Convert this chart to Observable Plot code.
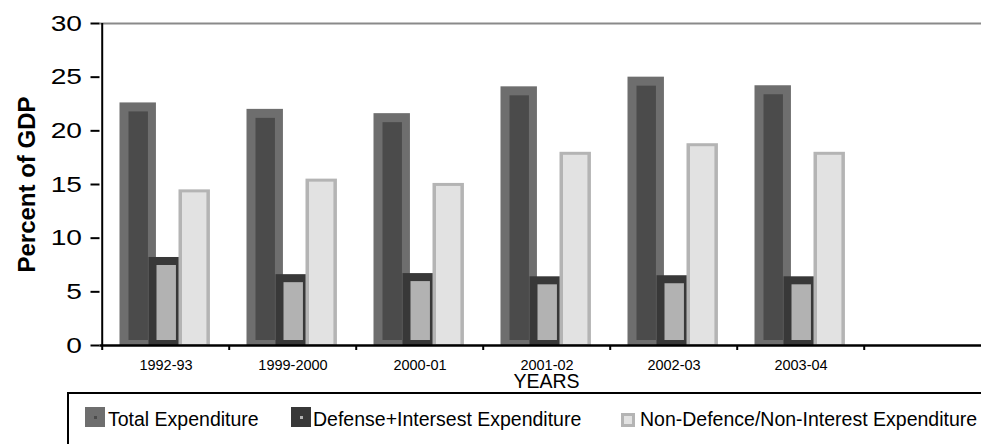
<!DOCTYPE html>
<html>
<head>
<meta charset="utf-8">
<script src="https://cdn.jsdelivr.net/npm/d3@7"></script>
<script src="https://cdn.jsdelivr.net/npm/@observablehq/plot@0.6"></script>
<style>
  body { margin: 0; background: #fff; font-family: "Liberation Sans", Arial, sans-serif; }
  #wrap { position: relative; width: 981px; height: 444px; overflow: hidden; background: #fff; }
  #wrap svg { max-width: none !important; position: absolute; left: 0; top: 0;
    font-family: "Liberation Sans", Arial, sans-serif !important; }
  #wrap svg text { font-family: "Liberation Sans", Arial, sans-serif; }
  #legend-box { position: absolute; left: 67px; top: 392px; width: 1000px; height: 80px;
    border: 2px solid #000; box-sizing: border-box; }
  .sw { position: absolute; box-sizing: border-box; }
  .dot { position: absolute; width: 3px; height: 3px; left: 8.5px; top: 8.5px; }
  .lbl { position: absolute; top: 409.5px; font-size: 19.5px; line-height: 19.5px; color: #000; white-space: nowrap; }
</style>
</head>
<body>
<div id="wrap"></div>
<script>
// Government expenditure as a share of GDP, by fiscal year
const years = ["1992-93", "1999-2000", "2000-01", "2001-02", "2002-03", "2003-04"];
const totalExpenditure = [22.6, 22.0, 21.6, 24.1, 25.0, 24.2];
const defenseInterest = [8.2, 6.6, 6.7, 6.4, 6.5, 6.4];
const nonDefenceNonInterest = [14.5, 15.5, 15.1, 18.0, 18.8, 18.0];
const yTicks = [0, 5, 10, 15, 20, 25, 30];
const seriesNames = ["Total Expenditure", "Defense+Intersest Expenditure", "Non-Defence/Non-Interest Expenditure"];

const rows = years.map((year, i) => ({
  year,
  total: totalExpenditure[i],
  defense: defenseInterest[i],
  nonDefence: nonDefenceNonInterest[i]
}));

// layout: the category axis keeps a spare empty slot on the right
const W = 993, H = 393, mL = 99.5, mR = 0.5, mT = 23, mB = 48;
const slots = [...years, ""];
const bw = (W - mL - mR) / slots.length;

// each column is an outer shell with an inset core
function column(field, outer, inner, left, right, border, bottom) {
  return [
    Plot.barY(rows, {x: "year", y: field, fill: outer, insetLeft: left, insetRight: bw - right}),
    Plot.barY(rows, {x: "year", y: field, fill: inner,
      insetLeft: left + border[0], insetRight: bw - right + border[1],
      insetTop: border[2], insetBottom: bottom})
  ];
}

const chart = Plot.plot({
  width: W, height: H,
  marginLeft: mL, marginRight: mR, marginTop: mT, marginBottom: mB,
  style: {background: "transparent", maxWidth: "none", color: "#000"},
  x: {domain: slots, padding: 0, axis: null},
  y: {domain: [0, 30], axis: null},
  marks: [
    ...column("total", "#6e6e6e", "#4b4b4b", 17.5, 54.5, [9, 8, 9], 5),
    ...column("defense", "#383838", "#b2b2b2", 46.5, 82.5, [8, 8, 8], 5),
    ...column("nonDefence", "#b4b4b4", "#e2e2e2", 76.5, 108.5, [3.5, 3.5, 3], 1),
    Plot.gridY({ticks: [30], stroke: "#8a8a8a", strokeOpacity: 1, strokeWidth: 2}),
    Plot.ruleY([0], {stroke: "#000", strokeWidth: 2.5}),
    Plot.ruleX([years[0]], {x: d => d, dx: -bw / 2, stroke: "#000", strokeWidth: 2}),
    Plot.axisY({ticks: yTicks, tickSize: 9, tickPadding: 9, fontSize: 22, strokeWidth: 2, label: null}),
    Plot.axisX({ticks: slots, tickSize: 5, tickFormat: () => "", dx: -bw / 2, strokeWidth: 2, label: null}),
    Plot.axisX({ticks: years, tickSize: 0, tickPadding: 14, fontSize: 14.5, label: null}),
    Plot.text(["Percent of GDP"], {text: d => d, frameAnchor: "left", textAnchor: "middle", rotate: -90, dx: -73,
      fontSize: 24, fontWeight: "bold", fill: "#000"}),
    Plot.text(["YEARS"], {text: d => d, frameAnchor: "bottom", textAnchor: "middle", dy: 42, fontSize: 19.5, fill: "#000"})
  ]
});

// the value labels on the left use wide digits: stretch each one about its right-hand anchor
chart.querySelectorAll('g[aria-label="y-axis tick label"] text').forEach(t => {
  const tr = t.getAttribute("transform");
  if (tr) {
    t.setAttribute("transform", tr + " scale(1.28,1)");
  } else {
    const x = +t.getAttribute("x") || 0, y = +t.getAttribute("y") || 0;
    t.removeAttribute("x");
    t.removeAttribute("y");
    t.setAttribute("transform", `translate(${x},${y}) scale(1.28,1)`);
  }
});

const wrap = document.getElementById("wrap");
wrap.appendChild(chart);

// legend under the chart
const legend = [
  {name: seriesNames[0], left: 85, text: 108, outer: "#6e6e6e", inner: "#4b4b4b", kind: "dot"},
  {name: seriesNames[1], left: 291, text: 313, outer: "#383838", inner: "#b2b2b2", kind: "dot"},
  {name: seriesNames[2], left: 621, text: 640, outer: "#b4b4b4", inner: "#e2e2e2", kind: "frame"}
];
const box = document.createElement("div");
box.id = "legend-box";
wrap.appendChild(box);
for (const item of legend) {
  const sw = document.createElement("div");
  sw.className = "sw";
  if (item.kind === "dot") {
    Object.assign(sw.style, {left: item.left + "px", top: "407px", width: "20px", height: "20px", background: item.outer});
    const dot = document.createElement("div");
    dot.className = "dot";
    dot.style.background = item.inner;
    sw.appendChild(dot);
  } else {
    Object.assign(sw.style, {left: item.left + "px", top: "413px", width: "14px", height: "14px",
      background: item.inner, border: "3px solid " + item.outer});
  }
  wrap.appendChild(sw);
  const t = document.createElement("div");
  t.className = "lbl";
  t.style.left = item.text + "px";
  t.textContent = item.name;
  wrap.appendChild(t);
}
</script>
</body>
</html>
